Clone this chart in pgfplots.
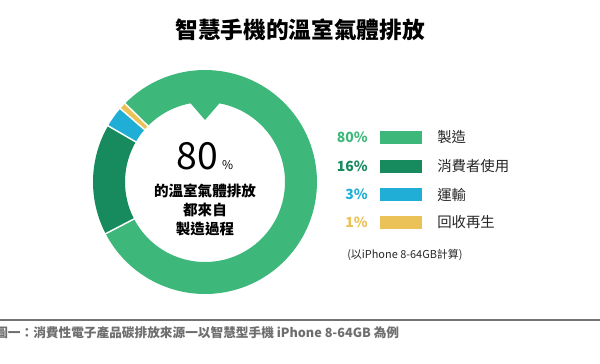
\documentclass[border=0pt]{standalone}
\usepackage{pgfplots}
\pgfplotsset{compat=1.18}
\usepackage{pgfplotstable}
\usepackage{fontspec}
\setmainfont{Noto Sans CJK TC}
\definecolor{cMan}{RGB}{62,184,122}
\definecolor{cUse}{RGB}{23,138,94}
\definecolor{cTra}{RGB}{33,174,214}
\definecolor{cRec}{RGB}{234,194,88}
\definecolor{capgray}{RGB}{110,110,110}
\pgfplotstableread{
part value
use 16
transport 3
recycle 1
manufacture 80
}\donut
\begin{document}
\begin{tikzpicture}
\pgfplotstablegetelem{0}{value}\of\donut \let\vA\pgfplotsretval
\pgfplotstablegetelem{1}{value}\of\donut \let\vB\pgfplotsretval
\pgfplotstablegetelem{2}{value}\of\donut \let\vC\pgfplotsretval
\pgfplotstablegetelem{3}{value}\of\donut \let\vD\pgfplotsretval
\pgfmathsetmacro\aA{207.5}
\pgfmathsetmacro\aB{\aA-3.6*\vA}
\pgfmathsetmacro\aC{\aB-3.6*\vB}
\pgfmathsetmacro\aD{\aC-3.6*\vC}
\pgfmathsetmacro\aE{\aD-3.6*\vD}
\def\Ro{84pt}\def\Ri{60pt}
\begin{axis}[
  x=0.75pt, y=0.75pt, y dir=reverse,
  xmin=0, xmax=600, ymin=0, ymax=364,
  hide axis, clip=false,
]
\addplot[draw=none] coordinates {(0,0) (600,364)};
% donut sectors
\fill[cUse] ([shift={(\aA:\Ro)}]axis cs:205,182) arc[start angle=\aA,end angle=\aB,radius=\Ro] -- ([shift={(\aB:\Ri)}]axis cs:205,182) arc[start angle=\aB,end angle=\aA,radius=\Ri] -- cycle;
\fill[cTra] ([shift={(\aB:\Ro)}]axis cs:205,182) arc[start angle=\aB,end angle=\aC,radius=\Ro] -- ([shift={(\aC:\Ri)}]axis cs:205,182) arc[start angle=\aC,end angle=\aB,radius=\Ri] -- cycle;
\fill[cRec] ([shift={(\aC:\Ro)}]axis cs:205,182) arc[start angle=\aC,end angle=\aD,radius=\Ro] -- ([shift={(\aD:\Ri)}]axis cs:205,182) arc[start angle=\aD,end angle=\aC,radius=\Ri] -- cycle;
\fill[cMan] ([shift={(\aD:\Ro)}]axis cs:205,182) arc[start angle=\aD,end angle=\aE,radius=\Ro] -- ([shift={(\aE:\Ri)}]axis cs:205,182) arc[start angle=\aE,end angle=\aD,radius=\Ri] -- cycle;
% notch
\fill[cMan] (axis cs:186,98) -- (axis cs:224,98) -- (axis cs:205,120) -- cycle;
% separators
\draw[white, line width=1.1pt] ([shift={(\aA:58pt)}]axis cs:205,182) -- ([shift={(\aA:86pt)}]axis cs:205,182);
\draw[white, line width=1.1pt] ([shift={(\aB:58pt)}]axis cs:205,182) -- ([shift={(\aB:86pt)}]axis cs:205,182);
\draw[white, line width=1.1pt] ([shift={(\aC:58pt)}]axis cs:205,182) -- ([shift={(\aC:86pt)}]axis cs:205,182);
\draw[white, line width=1.1pt] ([shift={(\aD:58pt)}]axis cs:205,182) -- ([shift={(\aD:86pt)}]axis cs:205,182);
% title
\node[font=\bfseries\fontsize{17}{20}\selectfont] at (axis cs:300,30) {智慧手機的溫室氣體排放};
% center text
\node[font=\fontsize{28}{30}\selectfont, inner sep=0pt] at (axis cs:205,156) {80\hspace{3pt}{\fontsize{9}{10}\selectfont\%}};
\node[font=\bfseries\fontsize{10.9}{14.2}\selectfont, align=center, anchor=north, inner sep=0pt] at (axis cs:205,183.5) {的溫室氣體排放\\都來自\\製造過程};
% legend
\fill[cMan] (axis cs:380,130.8) rectangle (axis cs:422,144);
\fill[cUse] (axis cs:380,159.5) rectangle (axis cs:422,172.7);
\fill[cTra] (axis cs:380,187.8) rectangle (axis cs:422,201);
\fill[cRec] (axis cs:380,215.8) rectangle (axis cs:422,229);
\begin{scope}[every node/.style={font=\bfseries\fontsize{10.5}{12}\selectfont, anchor=east, inner sep=0pt}]
\node[text=cMan] at (axis cs:368,137.3) {80\%};
\node[text=cUse] at (axis cs:368,166) {16\%};
\node[text=cTra] at (axis cs:368,194.5) {3\%};
\node[text=cRec] at (axis cs:368,222.5) {1\%};
\end{scope}
\begin{scope}[every node/.style={font=\fontsize{10.8}{12}\selectfont, anchor=west, inner sep=0pt, text=black!85}]
\node at (axis cs:437,137.3) {製造};
\node at (axis cs:437,166) {消費者使用};
\node at (axis cs:437,194.5) {運輸};
\node at (axis cs:437,222.5) {回收再生};
\end{scope}
\node[font=\fontsize{8.2}{10}\selectfont, anchor=west, inner sep=0pt, text=black!85] at (axis cs:347,255) {(以iPhone 8-64GB計算)};
% rule and caption
\draw[black!55, line width=1.2pt] (axis cs:0,320) -- (axis cs:600,320);
\node[font=\bfseries\fontsize{9.5}{11}\selectfont, anchor=west, inner sep=0pt, text=capgray] at (axis cs:-5,333) {圖一：消費性電子產品碳排放來源一以智慧型手機 iPhone 8-64GB 為例};
\end{axis}
\pgfresetboundingbox
\path (0,0) rectangle (450pt,273pt);
\end{tikzpicture}
\end{document}
